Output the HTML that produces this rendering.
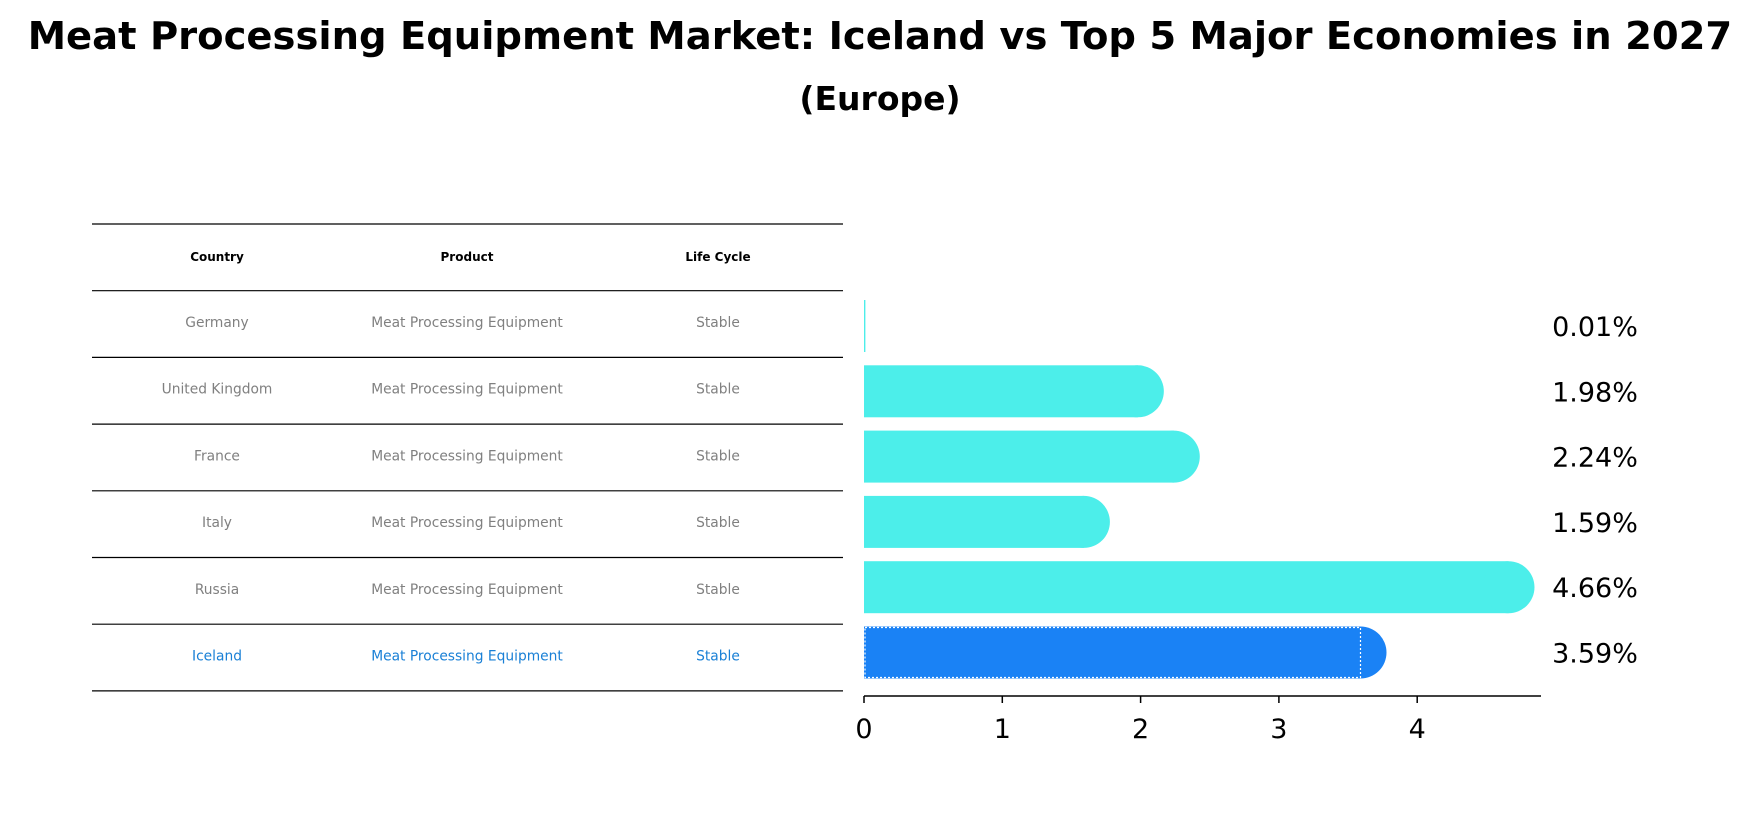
<!DOCTYPE html>
<html><head><meta charset="utf-8"><style>
body{margin:0;background:#fff;font-family:"Liberation Sans","DejaVu Sans",sans-serif;}
svg text{font-family:"DejaVu Sans","Liberation Sans",sans-serif;}
</style></head><body>
<svg id="chart" width="1759" height="823" xmlns="http://www.w3.org/2000/svg">
<text x="880" y="49" text-anchor="middle" font-size="38.5" font-weight="bold">Meat Processing Equipment Market: Iceland vs Top 5 Major Economies in 2027</text>
<text x="880" y="110" text-anchor="middle" font-size="33" font-weight="bold">(Europe)</text>
<g id="table"></g>
<g id="bars"></g>
<g id="axis"></g>
</svg>
<script>
const countries=["Germany","United Kingdom","France","Italy","Russia","Iceland"];
const values=[0.01,1.98,2.24,1.59,4.66,3.59];
const valueLabels=["0.01%","1.98%","2.24%","1.59%","4.66%","3.59%"];
const ticks=[0,1,2,3,4];
const product="Meat Processing Equipment";
const lifeCycle="Stable";
const NS="http://www.w3.org/2000/svg";
function mk(tag,attrs,parent,txt){const e=document.createElementNS(NS,tag);for(const k in attrs)e.setAttribute(k,attrs[k]);if(txt!==undefined)e.textContent=txt;parent.appendChild(e);return e;}
const x=v=>864+v*138.3;
const yc=i=>326+i*65.3;
const bh=52;
const T=document.getElementById('table'),B=document.getElementById('bars'),A=document.getElementById('axis');
const lineYs=[];for(let i=0;i<=7;i++)lineYs.push(224+i*66.7);
lineYs.forEach((ly,i)=>{const l=mk('line',{x1:92,x2:843,y1:ly,y2:ly,stroke:'#000','stroke-width':1.2},T);});
const colX=[217,467,718];
["Country","Product","Life Cycle"].forEach((h,j)=>{const t=mk('text',{x:colX[j],y:261,'text-anchor':'middle','font-size':12,'font-weight':'bold'},T,h);});
countries.forEach((c,i)=>{const col=i===5?'#1a80d6':'#808080';const ty=327+i*66.7;
[c,product,lifeCycle].forEach((s,j)=>{const t=mk('text',{x:colX[j],y:ty,'text-anchor':'middle','font-size':13.8,fill:col},T,s);});});
values.forEach((v,i)=>{const cy=yc(i);const fill=i===5?'#1a82f5':'#4ceeea';
const g=mk('g',{},B);
const w=Math.max(x(v)-x(0),1);
mk('rect',{x:x(0),y:cy-bh/2,width:w,height:bh,fill:fill},g);
if(v>0.05)mk('circle',{cx:x(v),cy:cy,r:bh/2,fill:fill},g);
if(i===5)mk('rect',{x:x(0)+1,y:cy-bh/2+1,width:w-1,height:bh-2,fill:'none',stroke:'#fff','stroke-width':1.2,'stroke-dasharray':'2,2'},g);
const t=mk('text',{x:1595,y:cy+10,'text-anchor':'middle','font-size':27},B,valueLabels[i]);});
mk('line',{x1:x(0),x2:1541,y1:696,y2:696,stroke:'#000','stroke-width':1.5},A);
ticks.forEach(tk=>{mk('line',{x1:x(tk),x2:x(tk),y1:696,y2:703,stroke:'#000','stroke-width':1.5},A);
const t=mk('text',{x:x(tk),y:738,'text-anchor':'middle','font-size':27},A,String(tk));});
</script>
</body></html>
